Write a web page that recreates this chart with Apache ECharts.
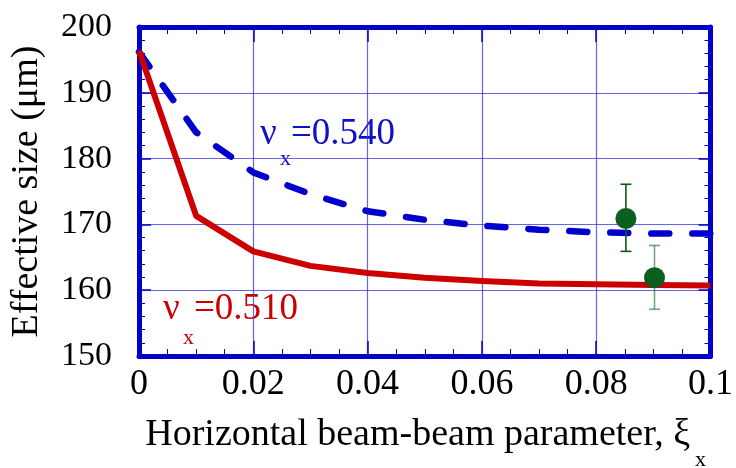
<!DOCTYPE html>
<html>
<head>
<meta charset="utf-8">
<script src="https://cdn.jsdelivr.net/npm/echarts@6/dist/echarts.min.js"></script>
<style>
html,body{margin:0;padding:0;background:#fff;}
#c{width:736px;height:468px;}
</style>
</head>
<body>
<div id="c"></div>
<script>
// ---- data ----
var xi = [0, 0.01, 0.02, 0.03, 0.04, 0.05, 0.06, 0.07, 0.08, 0.09, 0.1];
var size510 = [196.4, 171.3, 165.9, 163.7, 162.6, 161.9, 161.4, 161.0, 160.9, 160.8, 160.7];
var size540 = [196.2, 184.0, 177.9, 174.6, 172.0, 170.7, 169.8, 169.2, 168.8, 168.6, 168.6];
var measX = [0.0852, 0.0902];
var measY = [170.9, 161.9];
var measLo = [165.9, 157.1];
var measHi = [176.1, 166.8];
var xTicks = ['0', '0.02', '0.04', '0.06', '0.08', '0.1'];
var yTicks = ['150', '160', '170', '180', '190', '200'];

var FONT = '"Liberation Serif", "Times New Roman", serif';
var BLUE = '#0000cc';
var GRIDC = 'rgba(50,50,225,0.75)';

function zip(xs, ys) { return xs.map(function (x, i) { return [x, ys[i]]; }); }

var chart = echarts.init(document.getElementById('c'), null, {renderer: 'canvas'});

function xAxisCfg(pos, labels) {
  return {
    type: 'value', position: pos, min: 0, max: 0.1, interval: 0.02,
    axisLine: {show: true, onZero: false, lineStyle: {color: BLUE, width: 5}},
    axisTick: {show: true, inside: true, length: 15, lineStyle: {color: BLUE, width: 1.5}},
    minorTick: {show: true, splitNumber: 4, length: 7, lineStyle: {color: BLUE, width: 1}},
    splitLine: {show: labels, lineStyle: {color: GRIDC, width: 1.2}},
    axisLabel: {show: labels, margin: 11, color: '#000', fontFamily: FONT, fontSize: 36,
      formatter: function (v) { var i = Math.round(v / 0.02); return xTicks[i]; }}
  };
}
function yAxisCfg(pos, labels) {
  return {
    type: 'value', position: pos, min: 150, max: 200, interval: 10,
    axisLine: {show: true, onZero: false, lineStyle: {color: BLUE, width: 5}},
    axisTick: {show: true, inside: true, length: 12, lineStyle: {color: BLUE, width: 1.5}},
    minorTick: {show: true, splitNumber: 5, length: 6, lineStyle: {color: BLUE, width: 1}},
    splitLine: {show: labels, lineStyle: {color: GRIDC, width: 1.2}},
    axisLabel: {show: labels, margin: 27, color: '#000', fontFamily: FONT, fontSize: 34,
      formatter: function (v) { var i = Math.round((v - 150) / 10); return yTicks[i]; }}
  };
}

var xa = xAxisCfg('bottom', true);
xa.name = 'Horizontal beam-beam parameter, \u03BE';
xa.nameLocation = 'middle';
xa.nameGap = 60;
xa.nameTextStyle = {color: '#000', fontFamily: FONT, fontSize: 38, padding: [0, 14, 0, 0]};
var ya = yAxisCfg('left', true);
ya.name = 'Effective size (\u03BCm)';
ya.nameLocation = 'middle';
ya.nameGap = 93;
ya.nameTextStyle = {color: '#000', fontFamily: FONT, fontSize: 38};

var option = {
  backgroundColor: '#fff',
  animation: false,
  grid: {left: 137, right: 20, top: 27, bottom: 112, containLabel: false},
  xAxis: [xa, xAxisCfg('top', false)],
  yAxis: [ya, yAxisCfg('right', false)],
  series: [
    {
      type: 'line', data: zip(xi, size540), symbol: 'none', z: 3,
      lineStyle: {color: BLUE, width: 6.5, type: [18, 23], cap: 'round'}
    },
    {
      type: 'line', data: zip(xi, size510), symbol: 'none', z: 4,
      lineStyle: {color: '#cc0000', width: 6, join: 'round'}
    },
    {
      type: 'custom', z: 5,
      data: measX.map(function (x, i) { return [x, measLo[i], measHi[i], i]; }),
      renderItem: function (params, api) {
        var x = api.value(0);
        var lo = api.coord([x, api.value(1)]);
        var hi = api.coord([x, api.value(2)]);
        var op = api.value(3) === 1 ? 0.55 : 1;
        var st = {stroke: '#0a5a1e', lineWidth: 1.6, opacity: op};
        var w = 5.5;
        return {type: 'group', children: [
          {type: 'line', shape: {x1: lo[0], y1: lo[1], x2: hi[0], y2: hi[1]}, style: st},
          {type: 'line', shape: {x1: lo[0] - w, y1: lo[1], x2: lo[0] + w, y2: lo[1]}, style: st},
          {type: 'line', shape: {x1: hi[0] - w, y1: hi[1], x2: hi[0] + w, y2: hi[1]}, style: st}
        ]};
      }
    },
    {
      type: 'scatter', z: 6, data: zip(measX, measY), symbol: 'circle', symbolSize: 21,
      itemStyle: {color: '#0a5e1e', opacity: 1}
    }
  ],
  graphic: [
    {type: 'text', left: 695, top: 449, style: {text: 'x', font: '22px ' + FONT, fill: '#000'}},
    {type: 'text', left: 260, top: 116, style: {text: '\u03BD', font: '37px ' + FONT, fill: '#1010c8'}},
    {type: 'text', left: 291, top: 116, style: {text: '=0.540', font: '37px ' + FONT, fill: '#1010c8'}},
    {type: 'text', left: 280, top: 148, style: {text: 'x', font: '22px ' + FONT, fill: '#1010c8'}},
    {type: 'text', left: 163, top: 291, style: {text: '\u03BD', font: '37px ' + FONT, fill: '#cc0000'}},
    {type: 'text', left: 194, top: 291, style: {text: '=0.510', font: '37px ' + FONT, fill: '#cc0000'}},
    {type: 'text', left: 183, top: 327, style: {text: 'x', font: '22px ' + FONT, fill: '#cc0000'}}
  ]
};
chart.setOption(option);
</script>
</body>
</html>
